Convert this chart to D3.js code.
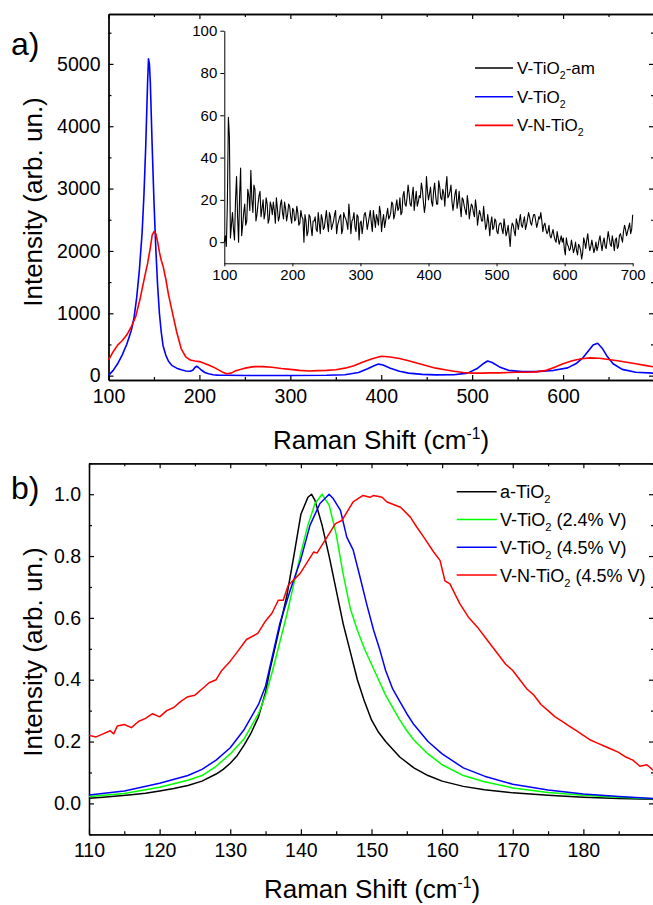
<!DOCTYPE html>
<html>
<head>
<meta charset="utf-8">
<script src="https://cdn.jsdelivr.net/npm/d3@7"></script>
<style>
  body { margin: 0; background: #fff; }
  text { font-family: "Liberation Sans", Arial, sans-serif; fill: #000; }
</style>
</head>
<body>
<div id="chart"></div>
<script>
"use strict"

// ---------- panel a) : Raman spectra 100-700 ----------
var a_blue_x = [100,105,110,115,120,125,128,131,134,137,139,141,142,143,144,145,146,147,148,150,152,154,156,158,160,163,166,170,175,180,185,190,193,195,197,199,202,206,210,215,220,230,250,300,340,360,375,385,392,397,402,410,420,430,445,460,480,495,505,512,517,522,530,540,555,570,590,605,615,622,628,633,638,643,648,655,665,680,700]
var a_blue_y = [5,80,190,330,500,720,920,1250,1700,2300,2900,3700,4200,4700,5080,5000,4700,4200,3700,2800,2050,1450,1000,700,480,330,230,160,120,95,75,70,90,130,150,130,90,50,30,15,8,5,3,3,5,15,50,110,160,185,170,120,70,40,20,12,15,40,110,190,235,210,140,85,65,65,85,125,200,290,400,490,520,440,320,190,100,55,40]

var a_red_x = [100,105,110,115,120,125,130,135,140,143,146,148,150,152,154,156,158,160,163,166,170,175,180,185,190,195,200,205,210,215,220,225,230,235,240,250,260,270,280,290,300,310,320,330,340,350,360,370,380,390,400,410,420,430,440,450,460,470,480,490,500,510,520,530,540,550,560,570,580,590,600,610,620,630,640,650,660,670,680,690,700]
var a_red_y = [250,380,490,560,650,780,950,1250,1600,1800,2050,2250,2310,2280,2150,1980,1850,1760,1550,1300,1030,700,430,300,250,235,225,200,170,140,100,60,30,40,80,120,145,145,135,115,100,85,75,80,85,95,120,160,220,270,310,300,275,240,200,160,120,95,70,50,40,40,45,45,50,55,55,60,80,130,190,240,270,285,280,260,240,215,190,165,140]

// inset, V-TiO2-am: values at x = 100,103,...,700 and in-between values at x = 101.5,104.5,...,698.5
var inset_x0 = 100, inset_dx = 3
var inset_y = [0,-2,59,2,14,1,31,0,35,8,18,10,22,34,14,25,13,22,12,20,14,18,11,17,19,9,16,12,20,11,16,13,17,9,15,11,14,9,12,0,10,5,12,3,10,6,14,4,11,7,15,5,12,8,13,4,10,13,6,12,9,18,4,11,7,13,1,10,8,14,6,12,9,15,7,11,17,5,13,10,16,12,19,11,17,15,21,14,24,17,27,18,22,15,24,19,21,25,14,31,20,26,17,28,18,29,21,25,17,31,22,27,15,23,16,24,12,20,15,22,11,18,14,20,8,15,10,17,6,13,3,12,7,10,4,9,6,11,3,8,-2,9,5,11,6,13,7,12,8,14,9,11,13,7,12,14,5,9,4,8,2,6,1,5,-1,3,2,-6,-1,-4,1,-5,0,-6,-2,-8,2,-3,4,-4,1,-5,0,-2,3,-4,2,-3,5,-1,3,-4,2,-2,4,0,8,3,7,4,13]
var inset_y_mid = [3,18,50,8,6,20,12,22,3,14,
    8,25,15,20,27,10,18,24,16,11,
    21,9,19,13,15,21,10,18,14,19,
    10,18,12,16,10,17,8,15,11,13,
    3,13,7,10,12,5,9,13,6,11,
    9,14,6,10,15,8,12,4,14,11,
    6,12,10,14,5,12,9,4,13,11,
    9,15,5,11,13,8,14,10,7,13,
    11,14,18,13,20,16,13,22,18,21,
    23,17,26,20,17,22,28,19,18,24,
    23,19,24,22,18,26,20,23,26,21,
    24,19,19,25,19,17,21,17,13,18,
    15,17,12,16,12,13,10,11,8,9,
    9,6,11,5,8,9,4,7,5,3,
    6,8,3,9,10,8,10,6,11,12,
    8,13,10,9,11,10,8,6,5,3,
    4,3,0,2,1,0,-3,2,-2,-3,
    -2,-3,-4,-1,-4,-5,0,1,-1,-2,
    -2,-3,-4,1,-1,0,-2,1,2,-2,
    0,1,-3,3,2,5,6,5,9,6]

var a_x_ticks = [100,200,300,400,500,600]
var a_y_ticks = [0,1000,2000,3000,4000,5000]
var inset_x_ticks = [100,200,300,400,500,600,700]
var inset_y_ticks = [0,20,40,60,80,100]
var a_legend = [["V-TiO", "2", "-am", "#000000"], ["V-TiO", "2", "", "#0000ff"], ["V-N-TiO", "2", "", "#ff0000"]]

// ---------- panel b) : normalised E_g peak ----------
var b_black_x = [110,112,114,116,118,120,122,124,126,128,129,130,131,132,133,134,135,135.6,136,137,138,139,140,141,141.5,142,143,144,145,146,147,148,149,150,151,152,154,156,158,160,163,166,170,175,180,185,190]
var b_black_y = [0.017,0.02,0.024,0.028,0.033,0.04,0.048,0.058,0.072,0.095,0.11,0.13,0.155,0.19,0.23,0.28,0.36,0.43,0.47,0.57,0.67,0.8,0.935,0.99,1.0,0.98,0.9,0.8,0.69,0.58,0.49,0.4,0.33,0.27,0.23,0.2,0.15,0.115,0.09,0.072,0.055,0.044,0.034,0.026,0.02,0.016,0.013]

var b_green_x = [110,115,120,124,126,128,130,132,134,135,136,137,138,139,140,141,142,143,144,145,146,147,148,149,150,151,152,153,154,155,156,158,160,163,166,170,175,180,185,190]
var b_green_y = [0.022,0.032,0.052,0.075,0.09,0.12,0.16,0.21,0.29,0.35,0.43,0.52,0.61,0.71,0.81,0.9,0.97,1.0,0.965,0.87,0.74,0.63,0.56,0.5,0.45,0.4,0.35,0.31,0.27,0.235,0.205,0.16,0.125,0.09,0.07,0.05,0.035,0.026,0.02,0.015]

var b_blue_x = [110,115,120,124,126,128,130,132,134,135,135.5,137,138.5,140,141.3,142.7,144,144.6,145.6,146.5,147.4,148.4,149.3,150.3,151.2,152,153,154,155,156,158,160,163,166,170,175,180,185,190]
var b_blue_y = [0.027,0.04,0.065,0.09,0.11,0.14,0.18,0.24,0.32,0.38,0.43,0.58,0.69,0.79,0.9,0.97,1.0,0.985,0.948,0.861,0.82,0.73,0.646,0.56,0.495,0.43,0.37,0.33,0.29,0.255,0.2,0.16,0.115,0.088,0.062,0.043,0.03,0.022,0.016]

var b_red_x = [110,111,112,113,113.5,114,115,116,117,118,119,120,121,122,123,124,125,126,127,128,128.8,130,131,132.3,133.9,135,135.9,136.8,137.5,138.2,139.9,141.8,142.3,143.7,144.9,145.8,147.4,148.8,149.8,150.3,151.5,152.2,154.1,155.5,156.4,157.4,158.8,159.7,160.4,161.1,162.5,163.7,165,166,167,168,169,170,171,172,173,174,175,176,177,178,179,180,181,182,183,184,185,186,187,188,189,190]
var b_red_y = [0.22,0.215,0.225,0.235,0.225,0.25,0.255,0.245,0.265,0.275,0.29,0.28,0.3,0.31,0.33,0.345,0.35,0.37,0.39,0.4,0.43,0.46,0.49,0.53,0.55,0.59,0.615,0.657,0.657,0.705,0.744,0.813,0.81,0.861,0.905,0.915,0.975,0.996,0.99,0.996,0.99,0.975,0.958,0.926,0.894,0.861,0.813,0.786,0.72,0.71,0.646,0.603,0.57,0.54,0.51,0.48,0.45,0.43,0.4,0.37,0.35,0.32,0.3,0.28,0.265,0.25,0.235,0.22,0.205,0.195,0.185,0.175,0.165,0.15,0.14,0.12,0.125,0.105]

var b_x_ticks = [110,120,130,140,150,160,170,180]
var b_y_ticks = [0,0.2,0.4,0.6,0.8,1.0]
var b_legend = [["a-TiO", "2", "", "#000000"], ["V-TiO", "2", " (2.4% V)", "#00ff00"], ["V-TiO", "2", " (4.5% V)", "#0000ff"], ["V-N-TiO", "2", " (4.5% V)", "#ff0000"]]


var svg = d3.select("#chart").append("svg")
    .attr("width", 653)
    .attr("height", 905)

var linefunc = d3.line()
    .x(function(d) { return d.x })
    .y(function(d) { return d.y })

function zip(xs, ys, sx, sy) {
    var out = []
    for (var i = 0; i < xs.length; i++)
        out.push({ x: sx(xs[i]), y: sy(ys[i]) })
    return out
}

function draw_curve(g, xs, ys, sx, sy, color, w) {
    g.append("path")
        .attr("d", linefunc(zip(xs, ys, sx, sy)))
        .attr("fill", "none")
        .attr("stroke", color)
        .attr("stroke-width", w)
        .attr("stroke-linejoin", "round")
}

// text with a sub- or superscript in the middle
function rich_text(g, x, y, size, pre, small, post, shift, anchor) {
    var t = g.append("text")
        .attr("x", x).attr("y", y)
        .attr("font-size", size)
        .attr("text-anchor", anchor || "start")
    t.append("tspan").text(pre)
    t.append("tspan").attr("font-size", size * 0.62).attr("dy", shift).text(small)
    t.append("tspan").attr("dy", -shift).text(post)
    return t
}

// box with ticks on all four sides, ticks pointing in
function framed_panel(sx, sy, xt, xminor, yt, yminor, yfmt) {
    var x0 = sx.range()[0], x1 = sx.range()[1]
    var y0 = sy.range()[0], y1 = sy.range()[1]
    var g = svg.append("g")

    g.append("g").attr("transform", "translate(0," + y0 + ")")
        .call(d3.axisBottom(sx).tickValues(xt).tickSize(-5).tickSizeOuter(0).tickPadding(9))
    g.append("g").attr("transform", "translate(0," + y0 + ")")
        .call(d3.axisBottom(sx).tickValues(xminor).tickSize(-3).tickSizeOuter(0).tickFormat(""))
    g.append("g").attr("transform", "translate(0," + y1 + ")")
        .call(d3.axisTop(sx).tickValues(xt).tickSize(-5).tickSizeOuter(0).tickFormat(""))
    g.append("g").attr("transform", "translate(0," + y1 + ")")
        .call(d3.axisTop(sx).tickValues(xminor).tickSize(-3).tickSizeOuter(0).tickFormat(""))

    g.append("g").attr("transform", "translate(" + x0 + ",0)")
        .call(d3.axisLeft(sy).tickValues(yt).tickSize(-5).tickSizeOuter(0).tickPadding(8).tickFormat(yfmt))
    g.append("g").attr("transform", "translate(" + x0 + ",0)")
        .call(d3.axisLeft(sy).tickValues(yminor).tickSize(-3).tickSizeOuter(0).tickFormat(""))
    g.append("g").attr("transform", "translate(" + x1 + ",0)")
        .call(d3.axisRight(sy).tickValues(yt).tickSize(-5).tickSizeOuter(0).tickFormat(""))
    g.append("g").attr("transform", "translate(" + x1 + ",0)")
        .call(d3.axisRight(sy).tickValues(yminor).tickSize(-3).tickSizeOuter(0).tickFormat(""))

    g.selectAll(".domain").attr("stroke", "#000").attr("stroke-width", 1.3)
    g.selectAll(".tick line").attr("stroke", "#000").attr("stroke-width", 1.2)
    g.selectAll(".tick text").attr("font-size", 19.5).attr("font-family", "Liberation Sans, Arial, sans-serif")
    return g
}

function axis_titles(cx, ty, cy, size) {
    var t = svg.append("text")
        .attr("x", cx).attr("y", ty)
        .attr("font-size", size)
        .attr("text-anchor", "middle")
    t.append("tspan").text("Raman Shift (cm")
    t.append("tspan").attr("font-size", size * 0.6).attr("dy", -10).text("-1")
    t.append("tspan").attr("dy", 10).text(")")

    svg.append("text")
        .attr("transform", "translate(42," + cy + ") rotate(-90)")
        .attr("font-size", size)
        .attr("text-anchor", "middle")
        .text("Intensity (arb. un.)")
}


// ---------- panel a ----------
var ax = d3.scaleLinear().domain([100, 700]).range([108.5, 654])
var ay = d3.scaleLinear().domain([-70, 5800]).range([380, 14])

var pa = framed_panel(ax, ay, a_x_ticks.concat([700]), d3.range(150, 700, 100),
    a_y_ticks, d3.range(500, 5800, 1000), d3.format("d"))
pa.selectAll(".tick text").filter(function(d) { return d === 700 }).remove()

draw_curve(svg, a_blue_x, a_blue_y, ax, ay, "#0000ff", 1.6)
draw_curve(svg, a_red_x, a_red_y, ax, ay, "#ff0000", 1.6)

axis_titles(381, 449, 202, 26)
svg.append("text").attr("x", 11).attr("y", 55).attr("font-size", 32).text("a)")

// inset
var ix = d3.scaleLinear().domain([100, 700]).range([224.3, 632.7])
var iy = d3.scaleLinear().domain([-10, 100]).range([263.3, 30.7])
var inset_xs = [], inset_ys = []
inset_y.forEach(function(v, i) {
    inset_xs.push(inset_x0 + i * inset_dx)
    inset_ys.push(v)
    if (i < inset_y_mid.length) {
        inset_xs.push(inset_x0 + i * inset_dx + inset_dx / 2)
        inset_ys.push(inset_y_mid[i])
    }
})

var gi = svg.append("g")
gi.append("g").attr("transform", "translate(0,263.3)")
    .call(d3.axisBottom(ix).tickValues(inset_x_ticks).tickSize(3).tickSizeOuter(0).tickPadding(3))
gi.append("g").attr("transform", "translate(224.3,0)")
    .call(d3.axisLeft(iy).tickValues(inset_y_ticks).tickSize(4).tickSizeOuter(0).tickPadding(3))
gi.selectAll(".domain").attr("stroke", "#000").attr("stroke-width", 1)
gi.selectAll(".tick line").attr("stroke", "#000")
gi.selectAll(".tick text").attr("font-size", 15).attr("font-family", "Liberation Sans, Arial, sans-serif")
draw_curve(gi, inset_xs, inset_ys, ix, iy, "#000000", 1.1)

a_legend.forEach(function(d, i) {
    var y = 68 + i * 28.7
    svg.append("line").attr("x1", 475).attr("x2", 513).attr("y1", y).attr("y2", y)
        .attr("stroke", d[3]).attr("stroke-width", 1.6)
    rich_text(svg, 517, y + 6, 17, d[0], d[1], d[2], 5)
})


// ---------- panel b ----------
var bx = d3.scaleLinear().domain([110, 190]).range([89, 654])
var by = d3.scaleLinear().domain([-0.1, 1.1]).range([834.3, 463.3])

framed_panel(bx, by, b_x_ticks.concat([190]), d3.range(115, 190, 10),
    b_y_ticks, [-0.1, 0.1, 0.3, 0.5, 0.7, 0.9, 1.1], d3.format(".1f"))

draw_curve(svg, b_black_x, b_black_y, bx, by, "#000000", 1.5)
draw_curve(svg, b_green_x, b_green_y, bx, by, "#00ff00", 1.5)
draw_curve(svg, b_blue_x, b_blue_y, bx, by, "#0000ff", 1.5)
draw_curve(svg, b_red_x, b_red_y, bx, by, "#ff0000", 1.5)

axis_titles(372, 898, 652, 26)
svg.append("text").attr("x", 11).attr("y", 499).attr("font-size", 32).text("b)")

b_legend.forEach(function(d, i) {
    var y = 491.7 + i * 27.8
    svg.append("line").attr("x1", 456.7).attr("x2", 496.7).attr("y1", y).attr("y2", y)
        .attr("stroke", d[3]).attr("stroke-width", 1.5)
    rich_text(svg, 500, y + 6.5, 18, d[0], d[1], d[2], 5)
})

// 190 label sits on the clipped right edge
svg.selectAll(".tick text").filter(function(d) { return d === 190 }).remove()
</script>
</body>
</html>
